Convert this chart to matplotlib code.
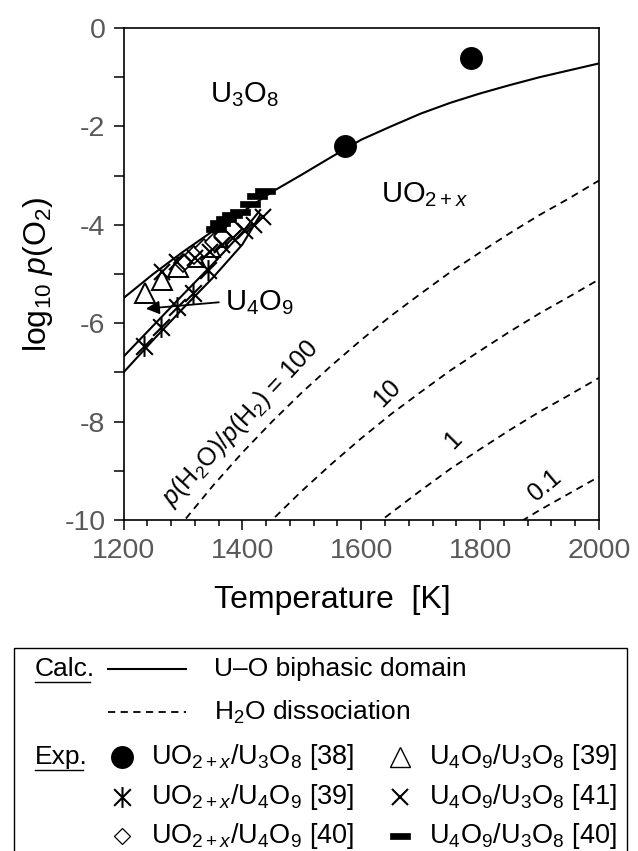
import numpy as np
import matplotlib
matplotlib.use("Agg")
import matplotlib.pyplot as plt
from matplotlib.path import Path
from matplotlib.patches import Rectangle

plt.rcParams['font.family'] = ['Liberation Sans', 'DejaVu Sans']
plt.rcParams['mathtext.fontset'] = 'custom'
plt.rcParams['mathtext.rm'] = 'Liberation Sans'
plt.rcParams['mathtext.it'] = 'Liberation Sans:italic'
plt.rcParams['mathtext.bf'] = 'Liberation Sans:bold'

# ---------------- data ----------------
# U3O8 / (U4O9, UO2+x) boundary (solid)
upper_T = [1200, 1250, 1300, 1350, 1400, 1450, 1500, 1550, 1600, 1650, 1700, 1750, 1800, 1850, 1900, 1950, 2000]
upper_p = [-5.49, -5.00, -4.55, -4.13, -3.74, -3.33, -2.98, -2.62, -2.27, -2.00, -1.74, -1.52, -1.33, -1.16, -1.00, -0.86, -0.72]
# lower U4O9 boundaries (solid)
lowA_T = [1200, 1250, 1300, 1350, 1400, 1430]
lowA_p = [-6.68, -6.05, -5.42, -4.80, -4.15, -3.70]
lowB_T = [1200, 1250, 1300, 1350, 1400, 1430]
lowB_p = [-7.00, -6.34, -5.70, -5.08, -4.40, -3.80]

# H2O dissociation (dashed), p(H2O)/p(H2) = 100, 10, 1, 0.1
h100_T = [1305, 1350, 1400, 1450, 1500, 1550, 1600, 1650, 1700, 1750, 1800, 1850, 1900, 1950, 2000]
h100_p = [-9.97, -9.31, -8.63, -8.00, -7.41, -6.86, -6.34, -5.85, -5.40, -4.96, -4.56, -4.17, -3.80, -3.46, -3.10]
h10_T = [1455, 1500, 1550, 1600, 1650, 1700, 1750, 1800, 1850, 1900, 1950, 2000]
h10_p = [-9.94, -9.41, -8.86, -8.34, -7.85, -7.40, -6.96, -6.56, -6.17, -5.80, -5.46, -5.11]
h1_T = [1640, 1700, 1750, 1800, 1850, 1900, 1950, 2000]
h1_p = [-9.95, -9.40, -8.96, -8.56, -8.17, -7.80, -7.46, -7.11]
h01_T = [1870, 1900, 1950, 2000]
h01_p = [-10.02, -9.80, -9.46, -9.12]

# experimental points
circ_T = [1573, 1785]                      # UO2+x/U3O8 [38]
circ_p = [-2.40, -0.60]
tri_T = [1236, 1265, 1292, 1320, 1345, 1359]   # U4O9/U3O8 [39]
tri_p = [-5.39, -5.12, -4.86, -4.65, -4.45, -4.25]
ast_T = [1235, 1263, 1290, 1317, 1342]     # UO2+x/U4O9 [39]
ast_p = [-6.46, -6.08, -5.67, -5.39, -4.92]
dia_T = [1300, 1318, 1335, 1352, 1368, 1385]   # UO2+x/U4O9 [40]
dia_p = [-4.78, -4.62, -4.48, -4.35, -4.22, -4.08]
x_T = [1265, 1290, 1320, 1345, 1365, 1385, 1405, 1420, 1435]   # U4O9/U3O8 [41]
x_p = [-4.95, -4.75, -4.68, -4.55, -4.42, -4.26, -4.13, -4.00, -3.85]
bar_T = [1355, 1362, 1372, 1383, 1396, 1413, 1425, 1438]       # U4O9/U3O8 [40]
bar_p = [-4.08, -3.96, -3.88, -3.80, -3.74, -3.58, -3.41, -3.31]

x_ticks = [1200, 1400, 1600, 1800, 2000]
y_ticks = [0, -2, -4, -6, -8, -10]

# ---------------- markers ----------------
ast_marker = Path([(0, -1), (0, 1), (-0.8, -0.8), (0.8, 0.8), (-0.8, 0.8), (0.8, -0.8)],
                  [Path.MOVETO, Path.LINETO, Path.MOVETO, Path.LINETO, Path.MOVETO, Path.LINETO])
bar_marker = Path([(-1, -0.32), (1, -0.32), (1, 0.32), (-1, 0.32), (-1, -0.32)],
                  [Path.MOVETO, Path.LINETO, Path.LINETO, Path.LINETO, Path.CLOSEPOLY])

mstyle = {
    'circ': dict(marker='o', ms=15.5, mfc='black', mec='black', ls='none'),
    'tri': dict(marker='^', ms=14, mfc='white', mec='black', mew=1.4, ls='none'),
    'ast': dict(marker=ast_marker, ms=15, mfc='none', mec='black', mew=1.5, ls='none'),
    'dia': dict(marker='D', ms=9, mfc='white', mec='black', mew=1.2, ls='none'),
    'x': dict(marker='x', ms=12, mec='black', mew=1.5, ls='none'),
    'bar': dict(marker=bar_marker, ms=15, mfc='black', mec='black', mew=0.5, ls='none'),
}

fig = plt.figure(figsize=(6.38, 8.51), dpi=100)
ax = fig.add_axes([123.5 / 638, (851 - 520) / 851, (599 - 123.5) / 638, (520 - 28) / 851])

dash = (0, (4, 3))
for T, p in [(h100_T, h100_p), (h10_T, h10_p), (h1_T, h1_p), (h01_T, h01_p)]:
    ax.plot(T, p, color='black', lw=1.3, ls=dash, zorder=2)

ax.plot(upper_T, upper_p, color='black', lw=1.5, zorder=3)
ax.plot(lowA_T, lowA_p, color='black', lw=1.5, zorder=3)
ax.plot(lowB_T, lowB_p, color='black', lw=1.5, zorder=3)

ax.plot(tri_T, tri_p, zorder=4, **mstyle['tri'])
ax.plot(dia_T, dia_p, zorder=4, **mstyle['dia'])
ax.plot(ast_T, ast_p, zorder=5, **mstyle['ast'])
ax.plot(x_T, x_p, zorder=5, **mstyle['x'])
ax.plot(bar_T, bar_p, zorder=6, **mstyle['bar'])
ax.plot(circ_T, circ_p, zorder=6, **mstyle['circ'])

ax.set_xlim(1200, 2000)
ax.set_ylim(-10, 0)
ax.set_xticks(x_ticks)
ax.set_xticks(np.arange(1200, 2001, 40), minor=True)
ax.set_yticks(y_ticks)
ax.set_yticks(np.arange(-10, 1, 1), minor=True)
ax.tick_params(axis='both', which='both', direction='out', color='black', width=1.1,
               labelcolor='#595959', labelsize=20.5)
ax.tick_params(axis='x', which='major', length=7, pad=6)
ax.tick_params(axis='x', which='minor', length=4)
ax.tick_params(axis='y', which='both', length=7, pad=6)
for s in ax.spines.values():
    s.set_linewidth(1.2)
ax.set_yticklabels([str(v) for v in y_ticks])

ax.set_xlabel('Temperature  [K]', fontsize=23)
ax.xaxis.set_label_coords(0.44, -0.133)
ax.set_ylabel(r'log$_{10}$ $p$(O$_2$)', fontsize=23)
ax.yaxis.set_label_coords(-0.145, 0.5)

# region labels
ax.text(1404, -1.36, r'U$_3$O$_8$', fontsize=21, ha='center', va='center')
ax.text(1707, -3.39, r'UO$_{2+x}$', fontsize=21, ha='center', va='center')
ax.text(1371, -5.59, r'U$_4$O$_9$', fontsize=21, ha='left', va='center')
ax.annotate('', xy=(1233, -5.71), xytext=(1365, -5.57),
            arrowprops=dict(arrowstyle='-|>', color='black', lw=1.3, mutation_scale=20))

ax.text(1398, -8.03, r'$p$(H$_2$O)/$p$(H$_2$) = 100', fontsize=18, rotation=47,
        ha='center', va='center')
ax.text(1644, -7.42, '10', fontsize=18, rotation=45, ha='center', va='center')
ax.text(1755, -8.37, '1', fontsize=18, rotation=45, ha='center', va='center')
ax.text(1909, -9.29, '0.1', fontsize=18, rotation=40, ha='center', va='center')

# ---------------- legend (pixel coordinates) ----------------
lg = fig.add_axes([0, 0, 1, 1], zorder=10)
lg.set_xlim(0, 638)
lg.set_ylim(851, 0)
lg.axis('off')
lg.patch.set_alpha(0)
lg.add_patch(Rectangle((14, 648), 613, 230, fill=False, ec='black', lw=1.0))

fs = 19
fs2 = 19.5
lg.text(35, 669, 'Calc.', fontsize=fs, va='center', ha='left')
lg.plot([35, 90], [682, 682], color='black', lw=1.0)
lg.plot([108, 186], [669, 669], color='black', lw=1.5)
lg.text(214, 669, 'U–O biphasic domain', fontsize=fs, va='center')
lg.plot([108, 186], [712, 712], color='black', lw=1.3, ls=dash)
lg.text(214, 712, r'H$_2$O dissociation', fontsize=fs, va='center')

lg.text(35, 757, 'Exp.', fontsize=fs, va='center', ha='left')
lg.plot([35, 83], [770, 770], color='black', lw=1.0)

rows = [
    ('circ', 122, 757, r'UO$_{2+x}$/U$_3$O$_8$ [38]'),
    ('tri', 400, 757, r'U$_4$O$_9$/U$_3$O$_8$ [39]'),
    ('ast', 122, 797, r'UO$_{2+x}$/U$_4$O$_9$ [39]'),
    ('x', 400, 797, r'U$_4$O$_9$/U$_3$O$_8$ [41]'),
    ('dia', 122, 836, r'UO$_{2+x}$/U$_4$O$_9$ [40]'),
    ('bar', 400, 836, r'U$_4$O$_9$/U$_3$O$_8$ [40]'),
]
for key, xm, ym, label in rows:
    st = dict(mstyle[key])
    if key == 'dia':
        st['ms'] = 8
        st['mew'] = 0.9
    if key == 'tri':
        st['mew'] = 1.0
    lg.plot([xm], [ym], **st)
    lg.text(xm + 29, ym, label, fontsize=fs2, va='center', ha='left')

fig.savefig('out.png', dpi=100)
